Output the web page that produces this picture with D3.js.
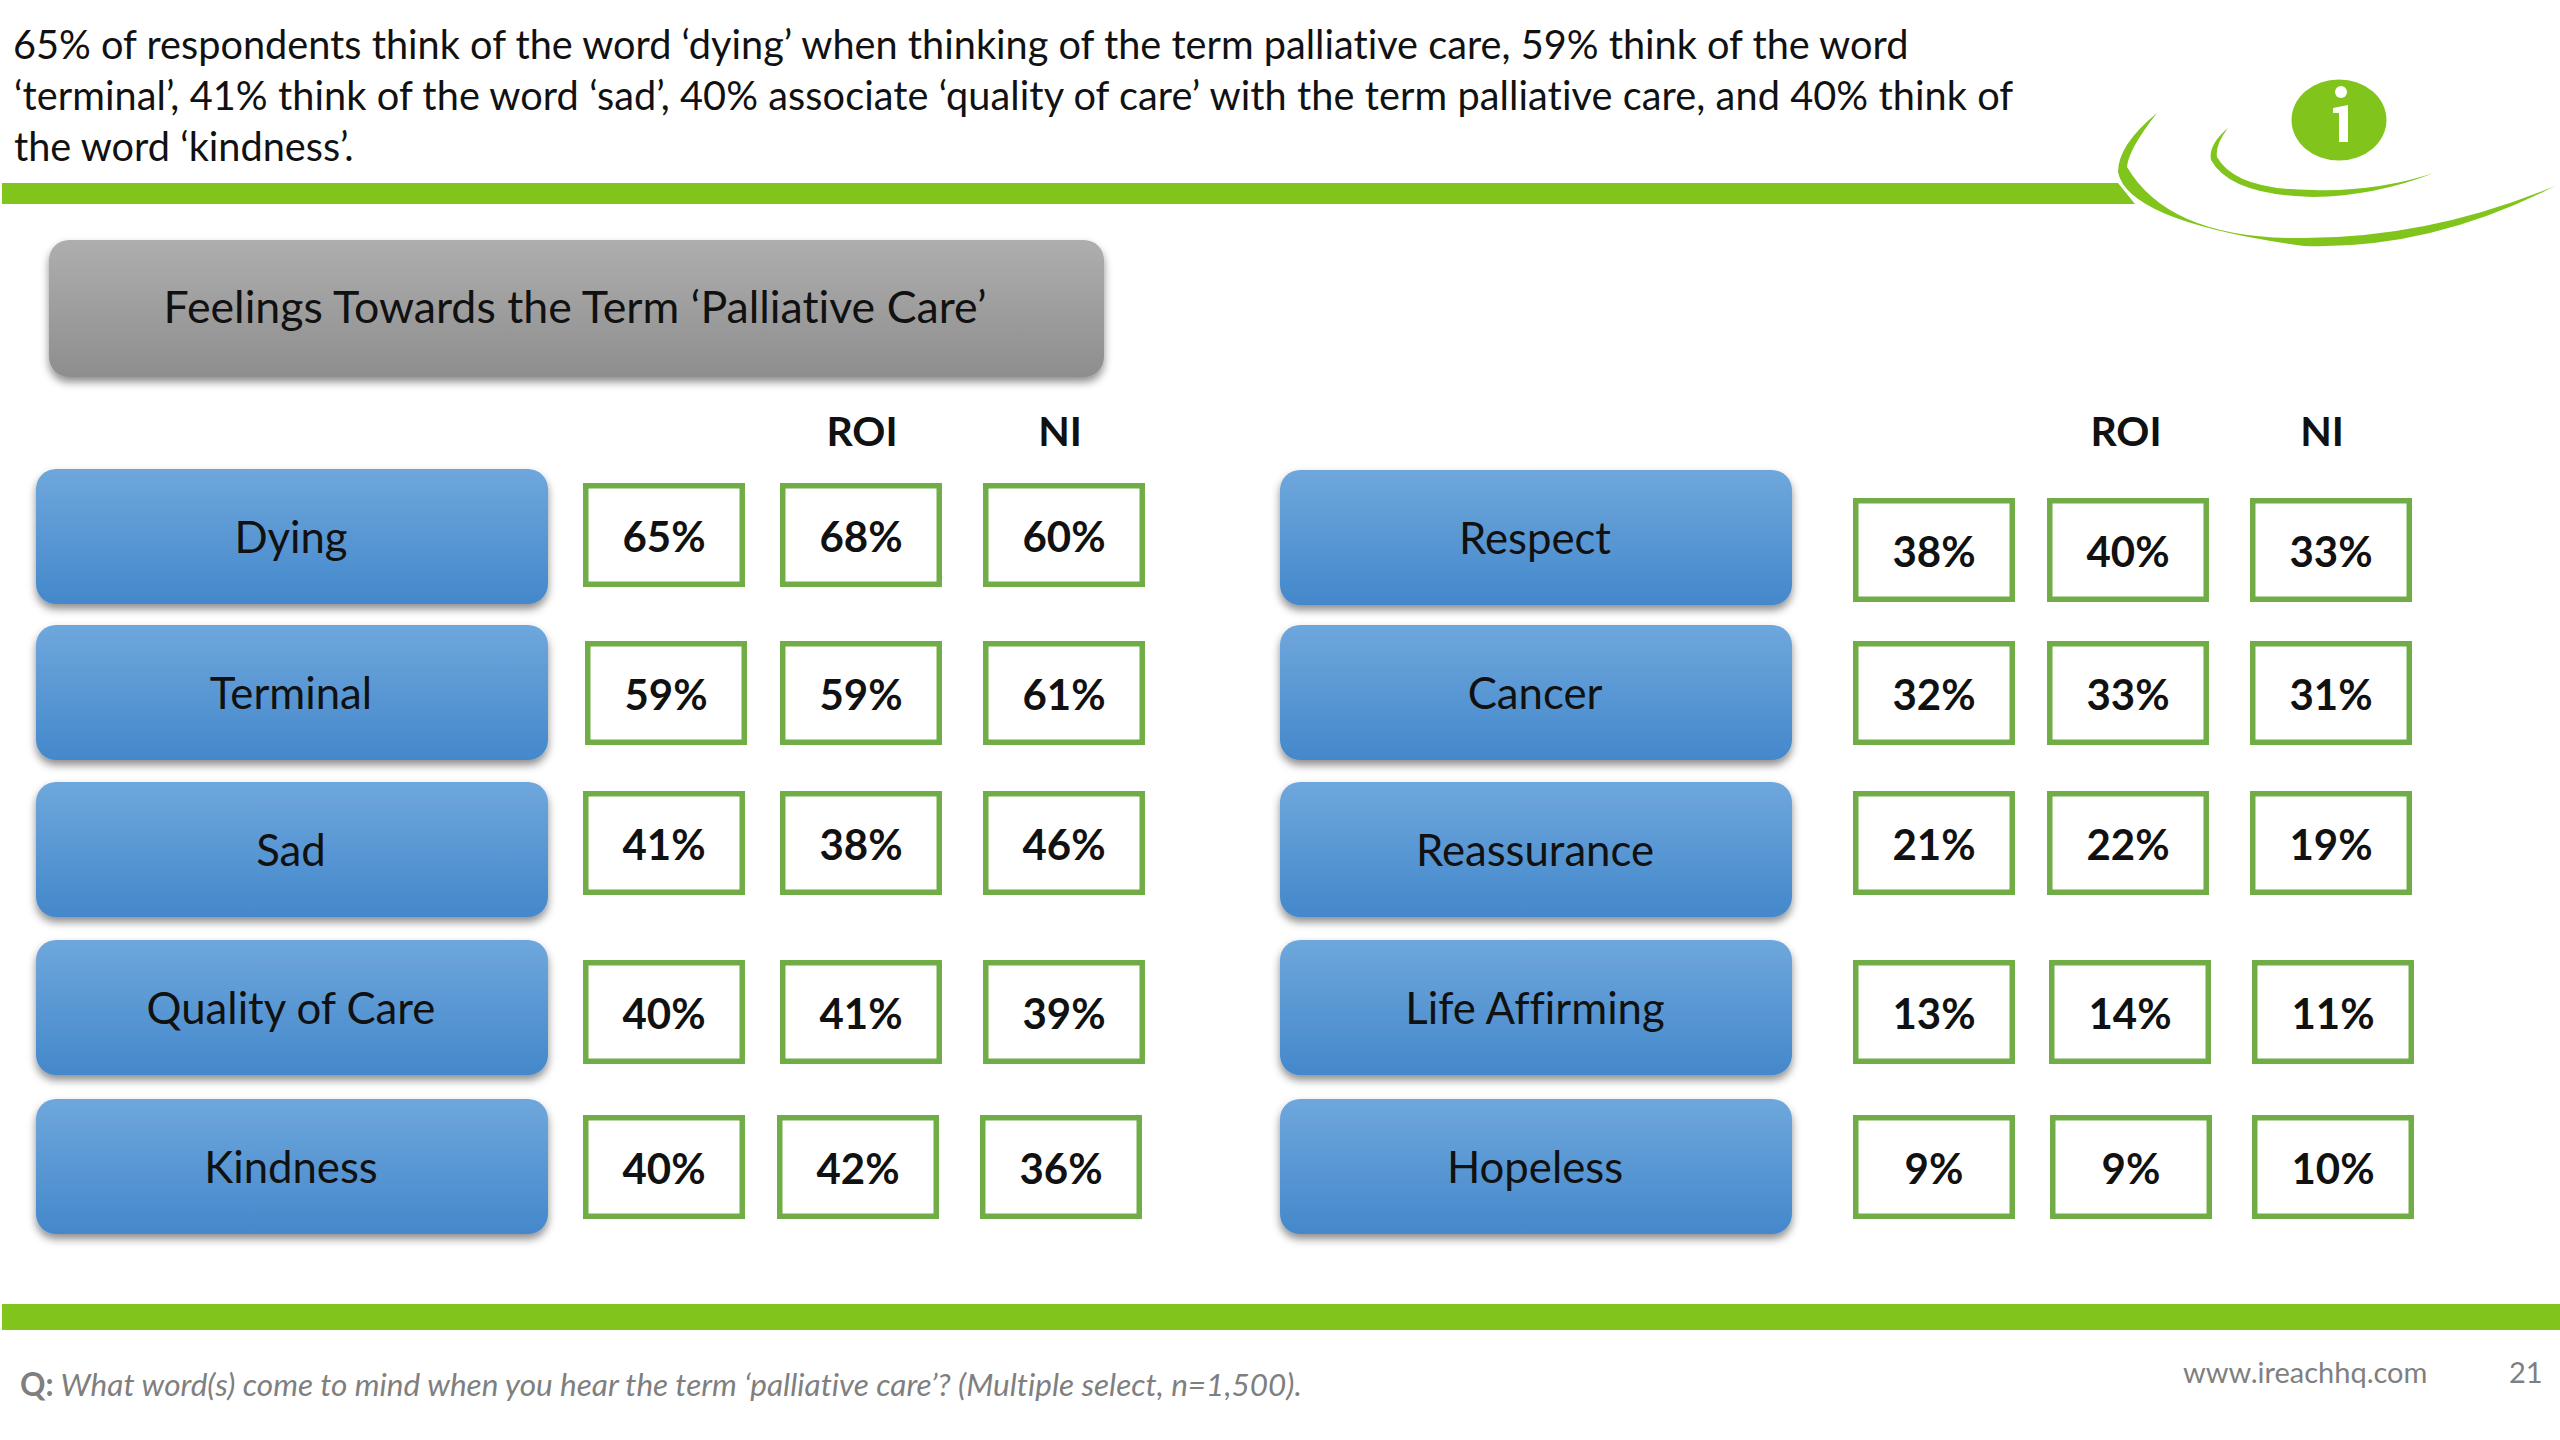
<!DOCTYPE html>
<html><head><meta charset="utf-8">
<script src="https://cdnjs.cloudflare.com/ajax/libs/d3/7.8.5/d3.min.js"></script>
<style>html,body{margin:0;padding:0;background:#fff}svg{display:block}text{font-family:Lato,"Open Sans",sans-serif;font-variant-ligatures:none}</style>
</head><body><div id="c"></div>
<script>
// ---------- data ----------
const headlineLines = [
 "65% of respondents think of the word ‘dying’ when thinking of the term palliative care, 59% think of the word",
 "‘terminal’, 41% think of the word ‘sad’, 40% associate ‘quality of care’ with the term palliative care, and 40% think of",
 "the word ‘kindness’."];
const chartTitle = "Feelings Towards the Term ‘Palliative Care’";
const columnHeaders = ["ROI","NI"];
const leftWords  = ["Dying","Terminal","Sad","Quality of Care","Kindness"];
const leftAll    = [65,59,41,40,40];
const leftROI    = [68,59,38,41,42];
const leftNI     = [60,61,46,39,36];
const rightWords = ["Respect","Cancer","Reassurance","Life Affirming","Hopeless"];
const rightAll   = [38,32,21,13,9];
const rightROI   = [40,33,22,14,9];
const rightNI    = [33,31,19,11,10];
const footQ = "Q:";
const footText = " What word(s) come to mind when you hear the term ‘palliative care’? (Multiple select, n=1,500).";
const siteLabel = "www.ireachhq.com";
const pageLabel = "21";

// ---------- layout scales ----------
const W=2560,H=1440, green="#80c41c", boxGreen="#70ad47";
const rowIdx=[0,1,2,3,4], colIdx=[0,1,2];
const btnY = {L:d3.scaleOrdinal(rowIdx,[469,625,782,940,1099]), R:d3.scaleOrdinal(rowIdx,[470,625,782,940,1099])};
const btnX = {L:36,R:1280}, btnW=512, btnH=135;
const cellY = {L:d3.scaleOrdinal(rowIdx,[483,641,791,960,1115]), R:d3.scaleOrdinal(rowIdx,[498,641,791,960,1115])};
const cellX = {L:d3.scaleOrdinal(colIdx,[583,780,983]), R:d3.scaleOrdinal(colIdx,[1853,2047,2250])};
const nudge = {L:[[0,0,0],[2,0,0],[0,0,0],[0,0,0],[0,-3,-3]], R:[[0,0,0],[0,0,0],[0,0,0],[0,2,2],[0,3,2]]};
const cellW=162, cellH=104, sw=5.5;

const svg=d3.select("#c").append("svg").attr("width",W).attr("height",H).attr("viewBox",`0 0 ${W} ${H}`);
const defs=svg.append("defs");
function grad(id,a,b){const g=defs.append("linearGradient").attr("id",id).attr("x1",0).attr("x2",0).attr("y1",0).attr("y2",1);
 g.append("stop").attr("offset","0%").attr("stop-color",a);g.append("stop").attr("offset","100%").attr("stop-color",b);}
grad("gBlue","#6ea7dc","#4488cb");grad("gGray","#aeaeae","#8e8e8e");
const f=defs.append("filter").attr("id","sh").attr("x","-5%").attr("y","-10%").attr("width","110%").attr("height","125%");
f.append("feDropShadow").attr("dx",0).attr("dy",5).attr("stdDeviation",4).attr("flood-color","#000").attr("flood-opacity",.45);

// headline
svg.selectAll("text.head").data(headlineLines).join("text").attr("class","head")
 .attr("x",(d,i)=>i?14:13).attr("y",(d,i)=>[59,110,161][i]).attr("font-size",39.7).attr("fill","#111")
 .attr("letter-spacing",(d,i)=>i==1?0.07:0).text(d=>d);

// green rules
svg.append("path").attr("fill",green).attr("d","M2 183 L2118 183 L2135 204 L2 204 Z");
svg.append("rect").attr("x",2).attr("y",1304).attr("width",2558).attr("height",26).attr("fill",green);

// logo swooshes
function swoosh(pts){const p=d3.path();p.moveTo(pts[0],pts[1]);for(let i=2;i<pts.length;i+=4)p.quadraticCurveTo(pts[i],pts[i+1],pts[i+2],pts[i+3]);p.closePath();return p.toString();}
svg.append("path").attr("fill",green).attr("d",swoosh([2157,113, 2118,145,2118,172, 2128,222,2304,246, 2430,250,2555,186, 2430,238,2304,238, 2170,240,2127,167, 2128,150,2157,113]));
svg.append("path").attr("fill",green).attr("d",swoosh([2228,128, 2208,145,2211,160, 2230,195,2313,197, 2375,196,2434,173, 2375,192,2313,190, 2235,190,2217,157, 2215,145,2228,128]));
svg.append("ellipse").attr("cx",2339).attr("cy",120).attr("rx",47.5).attr("ry",40.5).attr("fill",green);
svg.append("circle").attr("cx",2341).attr("cy",92).attr("r",6).attr("fill","#fff");
svg.append("path").attr("fill","#fff").attr("d","M2333 108 L2348 105 L2348 142 L2339 142 L2339 113 L2333 113 Z");

// title box
svg.append("rect").attr("x",49).attr("y",240).attr("width",1055).attr("height",137).attr("rx",20).attr("fill","url(#gGray)").attr("filter","url(#sh)");
svg.append("text").attr("x",575).attr("y",323).attr("text-anchor","middle").attr("font-size",44.7).attr("fill","#111").text(chartTitle);

// headers
[["L",[862,1060]],["R",[2126,2322]]].forEach(([k,xs])=>{
 svg.selectAll("text.h"+k).data(columnHeaders).join("text").attr("class","h"+k)
  .attr("x",(d,i)=>xs[i]).attr("y",446).attr("text-anchor","middle").attr("font-size",41).attr("font-weight",700).attr("fill","#111").text(d=>d);
});

function panel(k,words,all,roi,ni){
 const g=svg.append("g").attr("class","panel"+k);
 g.selectAll("rect.btn").data(words).join("rect").attr("class","btn")
  .attr("x",btnX[k]).attr("y",(d,i)=>btnY[k](i)).attr("width",btnW).attr("height",btnH).attr("rx",20)
  .attr("fill","url(#gBlue)").attr("filter","url(#sh)");
 g.selectAll("text.word").data(words).join("text").attr("class","word")
  .attr("x",btnX[k]+btnW/2-1).attr("y",(d,i)=>btnY[k](i)+btnH/2+16).attr("text-anchor","middle")
  .attr("font-size",43.7).attr("fill","#111").text(d=>d);
 [all,roi,ni].forEach((vals,c)=>{
  const cg=g.append("g");
  const x=(i)=>cellX[k](c)+nudge[k][i][c];
  cg.selectAll("rect").data(vals).join("rect")
   .attr("x",(d,i)=>x(i)+sw/2).attr("y",(d,i)=>cellY[k](i)+sw/2)
   .attr("width",cellW-sw).attr("height",cellH-sw).attr("fill","#fff").attr("stroke",boxGreen).attr("stroke-width",sw);
  cg.selectAll("text").data(vals).join("text")
   .attr("x",(d,i)=>x(i)+cellW/2).attr("y",(d,i)=>cellY[k](i)+cellH/2+16.5).attr("text-anchor","middle")
   .attr("font-size",42).attr("font-weight",700).attr("fill","#111").text(d=>d+"%");
 });
}
panel("L",leftWords,leftAll,leftROI,leftNI);
panel("R",rightWords,rightAll,rightROI,rightNI);

// footer
const ft=svg.append("text").attr("x",20).attr("y",1396).attr("font-size",31.5).attr("fill","#7f7f7f");
ft.append("tspan").attr("font-weight",700).text(footQ);
ft.append("tspan").attr("font-style","italic").text(footText);
svg.append("text").attr("x",2183).attr("y",1383).attr("font-size",29).attr("fill","#7f7f7f").text(siteLabel);
svg.append("text").attr("x",2509).attr("y",1383).attr("font-size",29).attr("fill","#7f7f7f").text(pageLabel);
</script></body></html>
